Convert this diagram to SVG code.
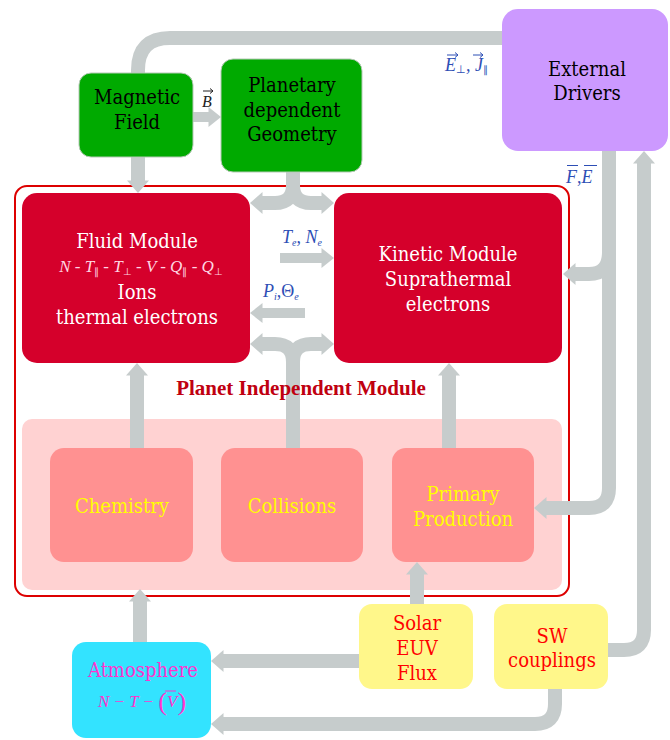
<svg xmlns="http://www.w3.org/2000/svg" width="670" height="740" viewBox="0 0 670 740" font-family="'Liberation Serif', 'DejaVu Serif', serif">
<style>
.nodetext{font-family:"DejaVu Serif Condensed","DejaVu Serif","Liberation Serif",serif;font-stretch:condensed;font-size:20px;text-anchor:middle}
.m{font-family:"Liberation Serif","Times New Roman",serif;font-style:italic}
.c{fill:none;stroke:#c6cccc;stroke-width:14}
.cs{fill:none;stroke:#c6cccc;stroke-width:10}
.lbl{fill:#2d4eb5;font-size:18px}
.vec{fill:none;stroke:#2d4eb5;stroke-width:1}
</style>
<defs>
<marker id="ah" markerUnits="userSpaceOnUse" markerWidth="14" markerHeight="24" viewBox="0 -12 14 24" refX="0" refY="0" orient="auto" overflow="visible">
<path d="M-0.5,-11 L12,0 L-0.5,11 Z" fill="#c6cccc"/>
</marker>
<marker id="ahs" markerUnits="userSpaceOnUse" markerWidth="14" markerHeight="22" viewBox="0 -11 14 22" refX="0" refY="0" orient="auto" overflow="visible">
<path d="M-0.5,-10 L12,0 L-0.5,10 Z" fill="#c6cccc"/>
</marker>
</defs>
<rect width="670" height="740" fill="#ffffff"/>

<g id="planet-independent-frame">
<rect x="15" y="186" width="554" height="410" rx="12" fill="#ffffff" stroke="#dd0000" stroke-width="2"/>
<rect x="22" y="419" width="540" height="171" rx="10" fill="#ffd2d2"/>
</g>

<g id="connectors">
<path class="c" d="M138,76 V70 Q138,38 170,38 H505"/>
<path class="cs" d="M192,117 H209" marker-end="url(#ahs)"/>
<path class="c" d="M138,156 V181" marker-end="url(#ah)"/>
<path class="c" d="M293,170 V185 Q293,203 275,203 H262" marker-end="url(#ah)"/>
<path class="c" d="M293,170 V185 Q293,203 311,203 H322" marker-end="url(#ah)"/>
<path class="cs" d="M280,258 H322" marker-end="url(#ahs)"/>
<path class="cs" d="M305,313 H262" marker-end="url(#ahs)"/>
<path class="c" d="M293,449 V362 Q293,344 275,344 H262" marker-end="url(#ah)"/>
<path class="c" d="M293,449 V362 Q293,344 311,344 H322" marker-end="url(#ah)"/>
<path class="c" d="M137,449 V375" marker-end="url(#ah)"/>
<path class="c" d="M449,449 V375" marker-end="url(#ah)"/>
<path class="c" d="M609,150 V488 Q609,508 589,508 H546" marker-end="url(#ah)"/>
<path class="c" d="M609,252 Q609,274 589,274 H575" marker-end="url(#ah)"/>
<path class="c" d="M607,650 H624 Q644,650 644,630 V163" marker-end="url(#ah)"/>
<path class="c" d="M555,688 V704 Q555,724 535,724 H223" marker-end="url(#ah)"/>
<path class="c" d="M360,661 H223" marker-end="url(#ah)"/>
<path class="c" d="M417,605 V574" marker-end="url(#ah)"/>
<path class="c" d="M140,643 V601" marker-end="url(#ah)"/>
</g>

<g id="label-planet-independent">
<text x="301" y="395" font-family="'Liberation Serif','Times New Roman',serif" font-size="21" font-weight="bold" fill="#c00010" text-anchor="middle">Planet Independent Module</text>
</g>
<g id="label-B">
<text x="202" y="107" class="m" font-size="16" fill="#222222">B</text>
<path d="M203,91 H213 M210,88.5 L213,91 L210,93.5" fill="none" stroke="#222222" stroke-width="1"/>
</g>
<g id="label-EJ">
<text x="445" y="71" class="m lbl">E<tspan font-size="11" font-style="normal" dy="2">⊥</tspan><tspan dy="-2">, J</tspan><tspan font-size="10" font-style="normal" dy="2">∥</tspan></text>
<path class="vec" d="M447,55 H458 M455,52.5 L458,55 L455,57.5 M473,55 H483 M480,52.5 L483,55 L480,57.5"/>
</g>
<g id="label-FE">
<text x="566" y="183" class="m lbl">F<tspan font-style="normal">,</tspan>E</text>
<path class="vec" d="M567,165.5 H578 M584,165.5 H597"/>
</g>
<g id="label-TeNe">
<text x="282" y="243" class="m lbl" font-size="16">T<tspan font-size="10" dy="3">e</tspan><tspan dy="-3" font-style="normal">,</tspan><tspan> N</tspan><tspan font-size="10" dy="3">e</tspan></text>
</g>
<g id="label-PiTheta">
<text x="263" y="297" class="m lbl" font-size="16">P<tspan font-size="10" dy="3">i</tspan><tspan dy="-3" font-style="normal">,Θ</tspan><tspan font-size="10" dy="3">e</tspan></text>
</g>

<g id="magnetic-field">
<rect x="79" y="73" width="114" height="84" rx="12" fill="#00aa00" stroke="#b5c9b5" stroke-width="1"/>
<text class="nodetext" x="137" y="104">Magnetic</text>
<text class="nodetext" x="137" y="129">Field</text>
</g>
<g id="planetary-geometry">
<rect x="221" y="59" width="141" height="113" rx="12" fill="#00aa00" stroke="#b5c9b5" stroke-width="1"/>
<text class="nodetext" x="292" y="92">Planetary</text>
<text class="nodetext" x="292" y="117">dependent</text>
<text class="nodetext" x="292" y="141">Geometry</text>
</g>
<g id="external-drivers">
<rect x="502" y="9" width="166" height="142" rx="16" fill="#cc99ff"/>
<text class="nodetext" x="587" y="76">External</text>
<text class="nodetext" x="587" y="100">Drivers</text>
</g>
<g id="fluid-module">
<rect x="22" y="193" width="228" height="170" rx="15" fill="#d5002b"/>
<text class="nodetext" x="137" y="248" fill="#ffffff">Fluid Module</text>
<text class="m" x="141" y="272" font-size="17" fill="#ffd6e2" text-anchor="middle">N - T<tspan font-size="10" font-style="normal" dy="3">∥</tspan><tspan dy="-3"> - T</tspan><tspan font-size="10" font-style="normal" dy="3">⊥</tspan><tspan dy="-3"> - V - Q</tspan><tspan font-size="10" font-style="normal" dy="3">∥</tspan><tspan dy="-3"> - Q</tspan><tspan font-size="10" font-style="normal" dy="3">⊥</tspan></text>
<text class="nodetext" x="137" y="299" fill="#ffffff">Ions</text>
<text class="nodetext" x="137" y="324" fill="#ffffff">thermal electrons</text>
</g>
<g id="kinetic-module">
<rect x="334" y="193" width="228" height="170" rx="15" fill="#d5002b"/>
<text class="nodetext" x="448" y="261" fill="#ffffff">Kinetic Module</text>
<text class="nodetext" x="448" y="286" fill="#ffffff">Suprathermal</text>
<text class="nodetext" x="448" y="311" fill="#ffffff">electrons</text>
</g>
<g id="chemistry">
<rect x="50" y="448" width="143" height="114" rx="14" fill="#ff9191"/>
<text class="nodetext" x="122" y="513" fill="#ffff00">Chemistry</text>
</g>
<g id="collisions">
<rect x="221" y="448" width="142" height="114" rx="14" fill="#ff9191"/>
<text class="nodetext" x="292" y="513" fill="#ffff00">Collisions</text>
</g>
<g id="primary-production">
<rect x="392" y="448" width="142" height="114" rx="14" fill="#ff9191"/>
<text class="nodetext" x="463" y="501" fill="#ffff00">Primary</text>
<text class="nodetext" x="463" y="526" fill="#ffff00">Production</text>
</g>
<g id="atmosphere">
<rect x="72" y="642" width="139" height="96" rx="14" fill="#33e3ff"/>
<text class="nodetext" x="143" y="677" fill="#ff33cc">Atmosphere</text>
<text class="m" x="142" y="707" font-size="17" fill="#ff33cc" text-anchor="middle">N − T − <tspan font-style="normal" font-size="26" dy="3">(</tspan><tspan dy="-3">V</tspan><tspan font-style="normal" font-size="26" dy="3">)</tspan></text>
<path d="M165,691 H176" fill="none" stroke="#ff33cc" stroke-width="1"/>
</g>
<g id="solar-euv-flux">
<rect x="359" y="604" width="114" height="85" rx="13" fill="#fff78a"/>
<text class="nodetext" x="417" y="630" fill="#ff0000">Solar</text>
<text class="nodetext" x="417" y="655" fill="#ff0000">EUV</text>
<text class="nodetext" x="417" y="680" fill="#ff0000">Flux</text>
</g>
<g id="sw-couplings">
<rect x="494" y="604" width="114" height="85" rx="13" fill="#fff78a"/>
<text class="nodetext" x="552" y="643" fill="#ff0000">SW</text>
<text class="nodetext" x="552" y="667" fill="#ff0000">couplings</text>
</g>
</svg>
